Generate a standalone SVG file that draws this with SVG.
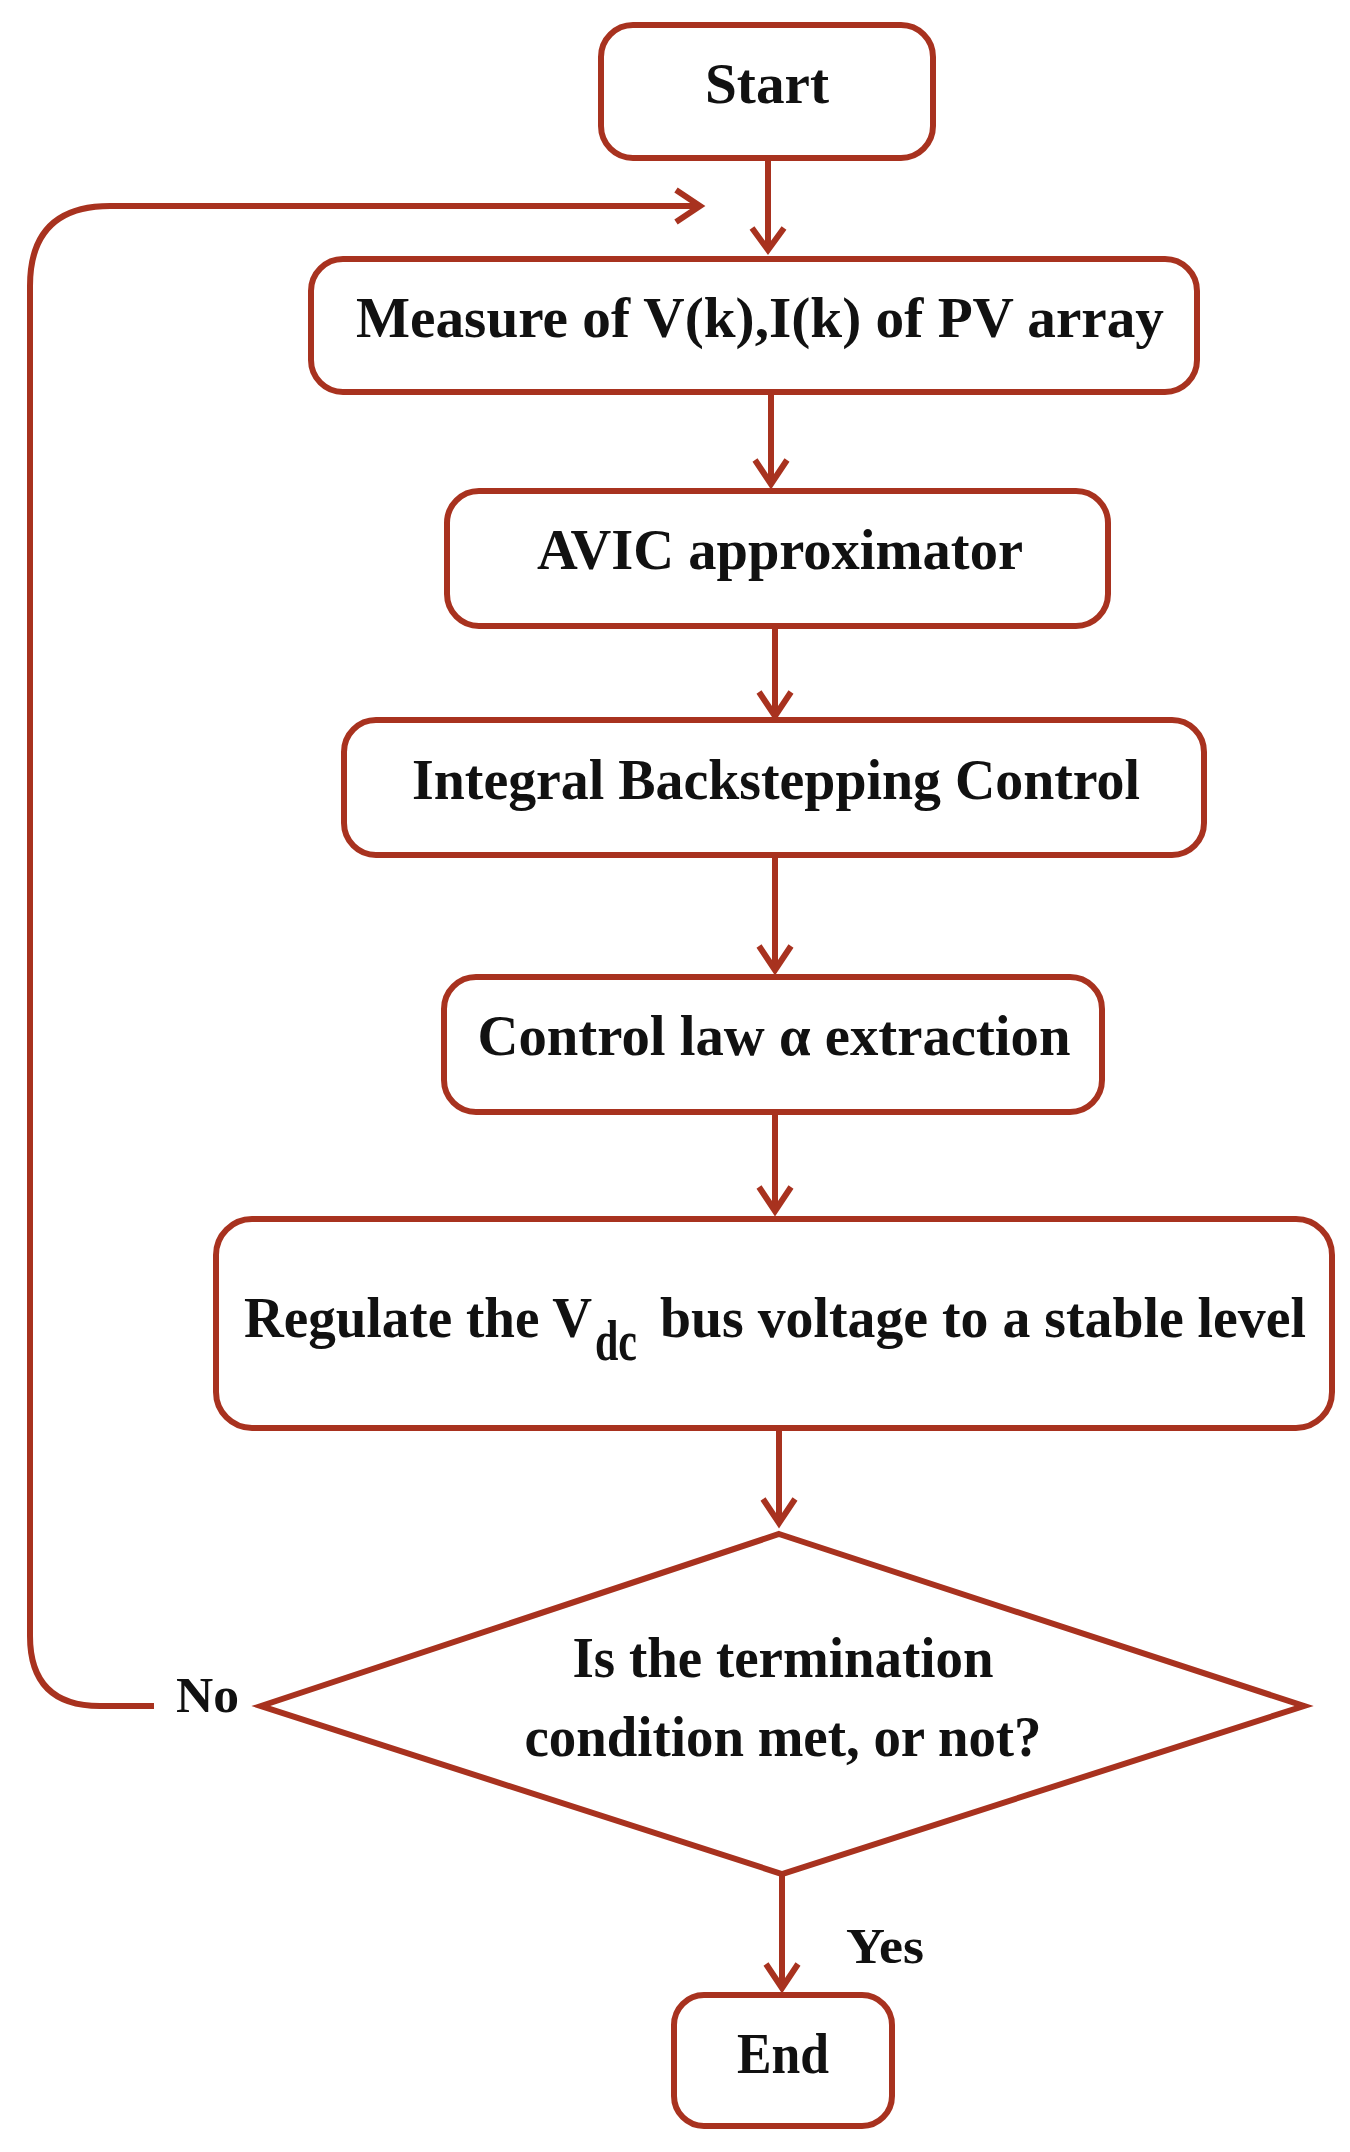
<svg xmlns="http://www.w3.org/2000/svg" width="1350" height="2152" viewBox="0 0 1350 2152">
<defs>
<style>
.b{fill:#fff;stroke:#a8321f;stroke-width:6}
.c{fill:none;stroke:#a8321f;stroke-width:6}
.t{font-family:"Liberation Serif","Times New Roman",serif;font-weight:bold;font-size:56px;fill:#111;text-anchor:middle}
.l{font-family:"Liberation Serif","Times New Roman",serif;font-weight:bold;font-size:50px;fill:#111;text-anchor:start}
</style>
</defs>
<rect width="1350" height="2152" fill="#fff"/>
<g id="connectors">
<line class="c" x1="768" y1="158" x2="768" y2="250"/>
<path class="c" d="M752,228 L768,250 L784,228"/>
<line class="c" x1="771" y1="392" x2="771" y2="484"/>
<path class="c" d="M755,460 L771,484 L787,460"/>
<line class="c" x1="775" y1="626" x2="775" y2="716"/>
<path class="c" d="M759,692 L775,716 L791,692"/>
<line class="c" x1="775" y1="855" x2="775" y2="970"/>
<path class="c" d="M759,946 L775,970 L791,946"/>
<line class="c" x1="775" y1="1112" x2="775" y2="1211"/>
<path class="c" d="M759,1187 L775,1211 L791,1187"/>
<line class="c" x1="779" y1="1428" x2="779" y2="1523"/>
<path class="c" d="M763,1499 L779,1523 L795,1499"/>
<line class="c" x1="782" y1="1874" x2="782" y2="1988"/>
<path class="c" d="M766,1964 L782,1988 L798,1964"/>
<path class="c" d="M154,1706 L100,1706 Q30,1706 30,1636 L30,286 Q30,206 110,206 L700,206"/>
<path class="c" d="M676,190 L700,206 L676,222"/>
<text class="l" x="176" y="1712" textLength="63" lengthAdjust="spacingAndGlyphs">No</text>
<text class="l" x="846" y="1963" textLength="78" lengthAdjust="spacingAndGlyphs">Yes</text>
</g>
<g id="start"><rect class="b" x="601" y="25" width="332" height="133" rx="32"/>
<text class="t" x="767" y="103" textLength="124" lengthAdjust="spacingAndGlyphs">Start</text></g>
<g id="measure"><rect class="b" x="311" y="259" width="886" height="133" rx="32"/>
<text class="t" x="760" y="337" textLength="808" lengthAdjust="spacingAndGlyphs">Measure of V(k),I(k) of PV array</text></g>
<g id="avic"><rect class="b" x="447" y="491" width="661" height="135" rx="32"/>
<text class="t" x="780" y="569" textLength="486" lengthAdjust="spacingAndGlyphs">AVIC approximator</text></g>
<g id="ibc"><rect class="b" x="344" y="720" width="860" height="135" rx="32"/>
<text class="t" x="776" y="799" textLength="728" lengthAdjust="spacingAndGlyphs">Integral Backstepping Control</text></g>
<g id="control"><rect class="b" x="444" y="977" width="658" height="135" rx="32"/>
<text class="t" x="774" y="1055" textLength="593" lengthAdjust="spacingAndGlyphs">Control law α extraction</text></g>
<g id="regulate"><rect class="b" x="216" y="1219" width="1116" height="209" rx="36"/>
<text class="t" x="418" y="1337" textLength="348" lengthAdjust="spacingAndGlyphs">Regulate the V</text>
<text class="t" x="616" y="1360" font-size="40" textLength="42" lengthAdjust="spacingAndGlyphs">dc</text>
<text class="t" x="983" y="1337" textLength="646" lengthAdjust="spacingAndGlyphs">bus voltage to a stable level</text></g>
<g id="decision"><polygon class="b" points="779,1534 1304,1706 782,1874 261,1706"/>
<text class="t" x="783" y="1677" textLength="421" lengthAdjust="spacingAndGlyphs">Is the termination</text>
<text class="t" x="783" y="1756" textLength="517" lengthAdjust="spacingAndGlyphs">condition met, or not?</text></g>
<g id="end"><rect class="b" x="674" y="1995" width="218" height="131" rx="30"/>
<text class="t" x="783" y="2073" textLength="92" lengthAdjust="spacingAndGlyphs">End</text></g>
</svg>
